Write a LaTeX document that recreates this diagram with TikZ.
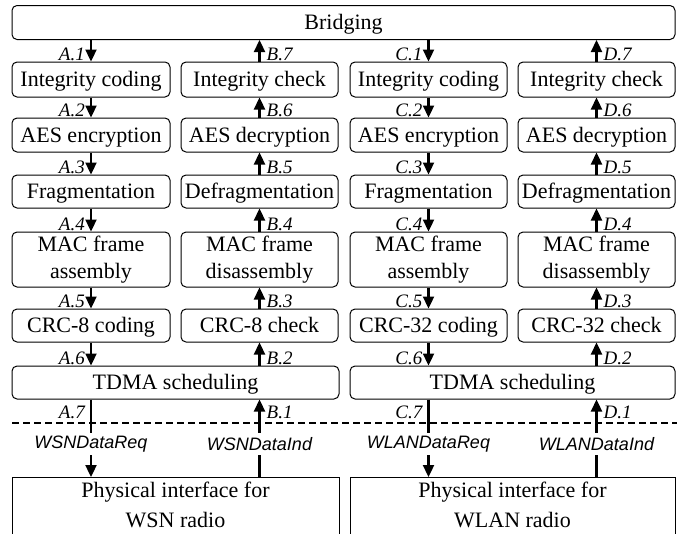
\documentclass[tikz,border=0pt]{standalone}
\usepackage{fontspec}
\setmainfont{Liberation Serif}
\newfontfamily\ifsans{Liberation Sans}
\usetikzlibrary{arrows.meta}

\tikzset{
  blk/.style={draw, line width=1pt, rounded corners=5pt, inner sep=0pt,
    align=center, font=\fontsize{22}{27}\selectfont},
  one/.style={blk, text height=17pt, text depth=3pt},
  physbox/.style={inner sep=0pt, align=center, font=\fontsize{22}{30}\selectfont},
  arr/.style={line width=2.3pt, -{Triangle[width=11pt,length=12pt]}},
  shaft/.style={line width=2.3pt},
  lblL/.style={anchor=base east, inner sep=0pt, font=\fontsize{19}{19}\selectfont\itshape},
  lblR/.style={anchor=base west, inner sep=0pt, font=\fontsize{19}{19}\selectfont\itshape},
  sig/.style={inner sep=0pt, minimum height=22pt, font=\fontsize{18}{18}\selectfont\ifsans\itshape},
}
\newcommand\lowln[1]{\raisebox{-2pt}{#1}}

\begin{document}
\begin{tikzpicture}[x=1pt, y=-1pt]
\useasboundingbox (0,0) rectangle (690,533);
\clip (0,0) rectangle (690,533);

% top bridging layer
\node[one, minimum width=663pt, minimum height=34pt] (bridge) at (343.5,22.5) {Bridging};

% WSN send chain (A)
\node[one, minimum width=158pt, minimum height=35pt] (a1) at (91,79.5) {Integrity coding};
\node[one, minimum width=158pt, minimum height=34pt] (a2) at (91,135) {AES encryption};
\node[one, minimum width=158pt, minimum height=33pt] (a3) at (91,191.5) {Fragmentation};
\node[blk, minimum width=158pt, minimum height=55pt] (a4) at (91,259.5) {\lowln{MAC frame}\\\lowln{assembly}};
\node[one, minimum width=158pt, minimum height=33pt] (a5) at (91,325.5) {CRC-8 coding};

% WSN receive chain (B)
\node[one, minimum width=157pt, minimum height=35pt] (b1) at (259.5,79.5) {Integrity check};
\node[one, minimum width=157pt, minimum height=34pt] (b2) at (259.5,135) {AES decryption};
\node[one, minimum width=157pt, minimum height=33pt] (b3) at (259.5,191.5) {Defragmentation};
\node[blk, minimum width=157pt, minimum height=55pt] (b4) at (259.5,259.5) {\lowln{MAC frame}\\\lowln{disassembly}};
\node[one, minimum width=157pt, minimum height=33pt] (b5) at (259.5,325.5) {CRC-8 check};

% WLAN send chain (C)
\node[one, minimum width=157pt, minimum height=35pt] (c1) at (428.5,79.5) {Integrity coding};
\node[one, minimum width=157pt, minimum height=34pt] (c2) at (428.5,135) {AES encryption};
\node[one, minimum width=157pt, minimum height=33pt] (c3) at (428.5,191.5) {Fragmentation};
\node[blk, minimum width=157pt, minimum height=55pt] (c4) at (428.5,259.5) {\lowln{MAC frame}\\\lowln{assembly}};
\node[one, minimum width=157pt, minimum height=33pt] (c5) at (428.5,325.5) {CRC-32 coding};

% WLAN receive chain (D)
\node[one, minimum width=157pt, minimum height=35pt] (d1) at (596.5,79.5) {Integrity check};
\node[one, minimum width=157pt, minimum height=34pt] (d2) at (596.5,135) {AES decryption};
\node[one, minimum width=157pt, minimum height=33pt] (d3) at (596.5,191.5) {Defragmentation};
\node[blk, minimum width=157pt, minimum height=55pt] (d4) at (596.5,259.5) {\lowln{MAC frame}\\\lowln{disassembly}};
\node[one, minimum width=157pt, minimum height=33pt] (d5) at (596.5,325.5) {CRC-32 check};

% schedulers
\node[one, minimum width=327pt, minimum height=33pt] (tw) at (175.5,382.5) {TDMA scheduling};
\node[one, minimum width=325pt, minimum height=33pt] (tl) at (512.5,382.5) {TDMA scheduling};

% physical interfaces (bottom edge runs off the page)
\node[physbox] (pw) at (175.5,505) {Physical interface for\\WSN radio};
\node[physbox] (pl) at (512.5,505) {Physical interface for\\WLAN radio};
\coordinate (pwtop) at (175.5,477);
\coordinate (pltop) at (512.5,477);
\draw[line width=1pt] (12,540) |- (339,477) -- (339,540);
\draw[line width=1pt] (350,540) |- (675,477) -- (675,540);

% service boundary
\coordinate (dl1) at (12,423);
\coordinate (dl2) at (677,423);
\draw[line width=1.3pt, dash pattern=on 7pt off 4pt] (dl1) -- (dl2);

% downward flows A and C
\foreach \c in {a,c}{
  \draw[arr] (bridge.south -| \c1.north) -- (\c1.north);
  \draw[arr] (\c1.south) -- (\c2.north);
  \draw[arr] (\c2.south) -- (\c3.north);
  \draw[arr] (\c3.south) -- (\c4.north);
  \draw[arr] (\c4.south) -- (\c5.north);
}
\draw[arr] (a5.south) -- (tw.north -| a5.south);
\draw[arr] (c5.south) -- (tl.north -| c5.south);

% upward flows B and D
\foreach \c in {b,d}{
  \draw[arr] (\c1.north) -- (bridge.south -| \c1.north);
  \draw[arr] (\c2.north) -- (\c1.south);
  \draw[arr] (\c3.north) -- (\c2.south);
  \draw[arr] (\c4.north) -- (\c3.south);
  \draw[arr] (\c5.north) -- (\c4.south);
}
\draw[arr] (tw.north -| b5.south) -- (b5.south);
\draw[arr] (tl.north -| d5.south) -- (d5.south);

% primitives across the service boundary
\node[sig] (sa) at (91,444) {WSNDataReq};
\node[sig] (sb) at (259.5,444) {WSNDataInd};
\node[sig] (sc) at (428.5,444) {WLANDataReq};
\node[sig] (sd) at (596.5,444) {WLANDataInd};

\draw[shaft] (tw.south -| sa.north) -- (sa.north);
\draw[arr] (sa.south) -- (pwtop -| sa.south);
\draw[shaft] (pwtop -| sb.south) -- (sb.south);
\draw[arr] (sb.north) -- (tw.south -| sb.north);
\draw[shaft] (tl.south -| sc.north) -- (sc.north);
\draw[arr] (sc.south) -- (pltop -| sc.south);
\draw[shaft] (pltop -| sd.south) -- (sd.south);
\draw[arr] (sd.north) -- (tl.south -| sd.north);

% step labels
\foreach \c/\L in {a/A,c/C}{
  \node[lblL] at ([xshift=-6pt,yshift=1pt]\c1.north) {\L.1};
  \node[lblL] at ([xshift=-6pt,yshift=1pt]\c2.north) {\L.2};
  \node[lblL] at ([xshift=-6pt,yshift=1pt]\c3.north) {\L.3};
  \node[lblL] at ([xshift=-6pt,yshift=1pt]\c4.north) {\L.4};
  \node[lblL] at ([xshift=-6pt,yshift=1pt]\c5.north) {\L.5};
}
\node[lblL] at ([xshift=-6pt,yshift=1pt]tw.north -| a5.south) {A.6};
\node[lblL] at ([xshift=-6pt,yshift=1pt]tl.north -| c5.south) {C.6};
\node[lblL] at ([xshift=-6pt,yshift=5pt]dl1 -| sa.north) {A.7};
\node[lblL] at ([xshift=-6pt,yshift=5pt]dl1 -| sc.north) {C.7};

\foreach \c/\L in {b/B,d/D}{
  \node[lblR] at ([xshift=7pt,yshift=1pt]\c1.north) {\L.7};
  \node[lblR] at ([xshift=7pt,yshift=1pt]\c2.north) {\L.6};
  \node[lblR] at ([xshift=7pt,yshift=1pt]\c3.north) {\L.5};
  \node[lblR] at ([xshift=7pt,yshift=1pt]\c4.north) {\L.4};
  \node[lblR] at ([xshift=7pt,yshift=1pt]\c5.north) {\L.3};
}
\node[lblR] at ([xshift=7pt,yshift=1pt]tw.north -| b5.south) {B.2};
\node[lblR] at ([xshift=7pt,yshift=1pt]tl.north -| d5.south) {D.2};
\node[lblR] at ([xshift=7pt,yshift=5pt]dl1 -| sb.north) {B.1};
\node[lblR] at ([xshift=7pt,yshift=5pt]dl1 -| sd.north) {D.1};
\end{tikzpicture}
\end{document}
